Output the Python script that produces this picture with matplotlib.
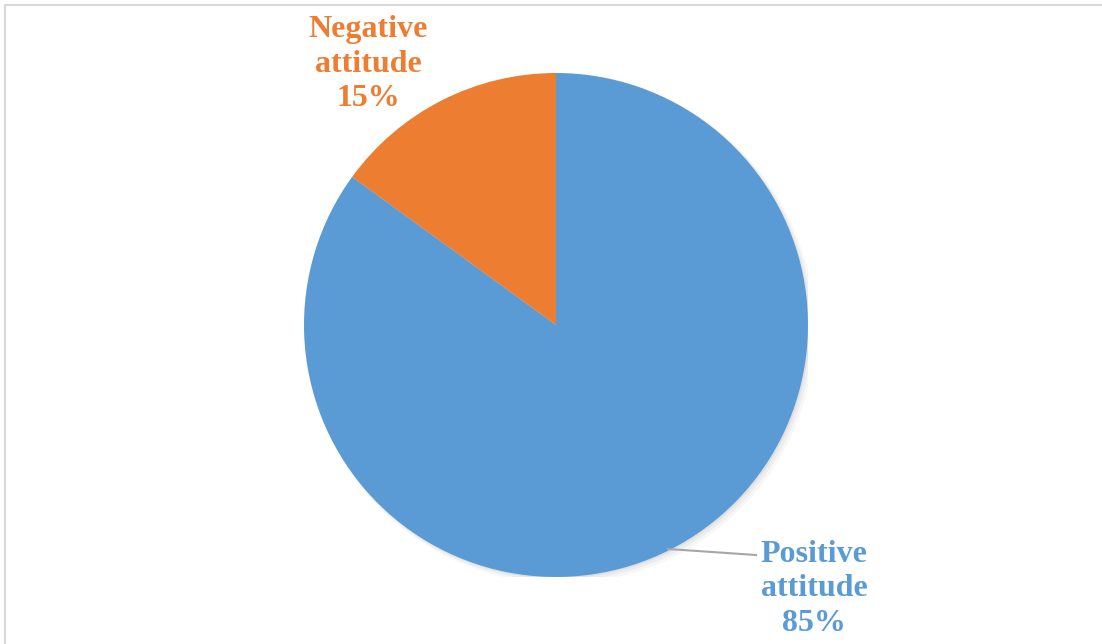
import matplotlib.pyplot as plt
from matplotlib.patches import Rectangle, Circle

labels = ["Positive\nattitude\n85%", "Negative\nattitude\n15%"]
values = [85, 15]
colors = ["#5B9BD5", "#ED7D31"]

W, H = 1102, 644
fig = plt.figure(figsize=(W / 100, H / 100), dpi=100)

# chart frame (only top and left visible)
fig.patches.append(Rectangle((5 / W, -0.1), 1.2, (H - 5) / H + 0.1, transform=fig.transFigure,
                             fill=False, edgecolor="#D9D9D9", linewidth=1.5))

cx, cy, r = 556, 325, 252
ax = fig.add_axes([(cx - r) / W, (H - cy - r) / H, 2 * r / W, 2 * r / H])

# soft shadow
for i, a in enumerate([0.05, 0.04, 0.03]):
    ax.add_patch(Circle((0.006 * (i + 1), -0.006 * (i + 1)), 1.0 + 0.004 * i, color="black", alpha=a, lw=0))

ax.pie(values, colors=colors, startangle=90, counterclock=False, radius=1.0,
       wedgeprops=dict(linewidth=0))
ax.set_xlim(-1, 1)
ax.set_ylim(-1, 1)
ax.set_aspect("equal")
ax.axis("off")

# leader line for positive label
ax.plot([(668 - cx) / r, (756 - cx) / r], [-(549 - cy) / r, -(555 - cy) / r],
        color="#A6A6A6", lw=1.5, clip_on=False)

font = dict(family="Liberation Serif", weight="bold", fontsize=23, ha="center", va="center",
            linespacing=1.25)
fig.text(814 / W, 1 - 589 / H, labels[0], color=colors[0], **font)
fig.text(368 / W, 1 - 64 / H, labels[1], color=colors[1], **font)

fig.savefig("out.png", dpi=100)
